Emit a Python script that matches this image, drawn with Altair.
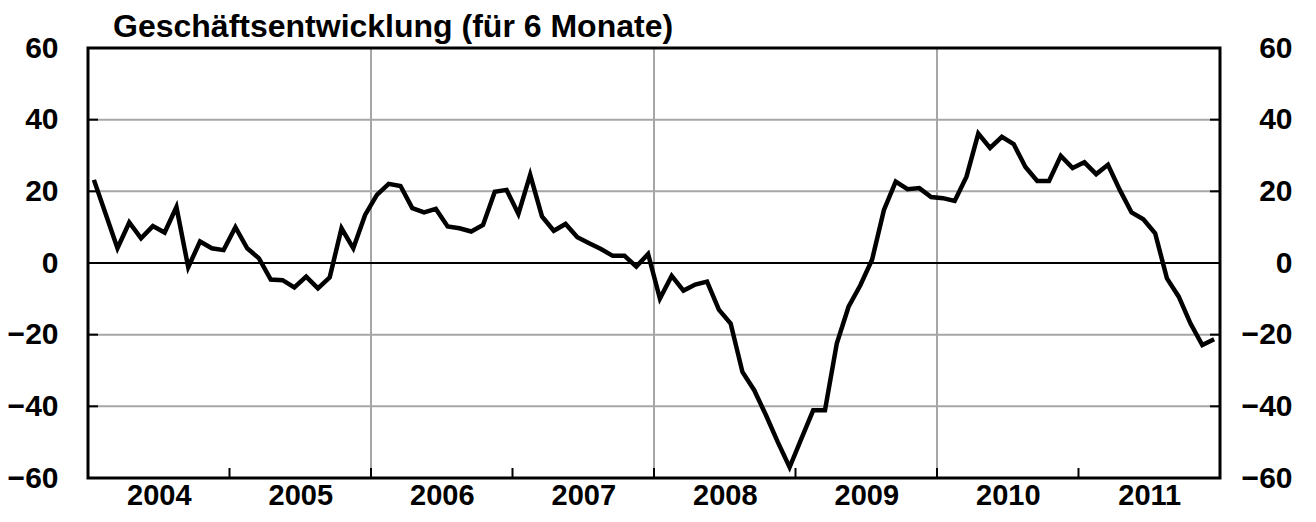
import altair as alt
import pandas as pd

# ---- data (monthly values) ----
years = [2004, 2005, 2006, 2007, 2008, 2009, 2010, 2011]
v2004 = [23.2, 13.7, 4.1, 11.3, 6.9, 10.3, 8.5, 15.6, -1.2, 6.0, 4.1, 3.6]
v2005 = [10.0, 4.1, 1.3, -4.6, -4.8, -6.8, -3.8, -7.1, -4.0, 9.7, 4.1, 13.4]
v2006 = [19.0, 22.1, 21.5, 15.3, 14.1, 15.1, 10.2, 9.7, 8.8, 10.6, 19.9, 20.4]
v2007 = [13.7, 24.6, 13.0, 9.0, 10.9, 7.2, 5.5, 3.9, 2.0, 2.0, -1.0, 2.5]
v2008 = [-9.9, -3.6, -7.7, -6.0, -5.2, -13.0, -16.9, -30.4, -35.5, -42.5, -50.0, -57.0]
v2009 = [-49.0, -41.1, -41.1, -22.5, -12.2, -6.2, 1.0, 14.8, 22.7, 20.6, 20.9, 18.4]
v2010 = [18.1, 17.3, 24.1, 36.1, 32.1, 35.2, 33.2, 26.8, 22.9, 22.9, 29.9, 26.5]
v2011 = [28.1, 24.8, 27.4, 20.4, 14.1, 12.2, 8.3, -4.3, -9.4, -16.9, -22.9, -21.3]
series = [v2004, v2005, v2006, v2007, v2008, v2009, v2010, v2011]

y_ticks = [-60, -40, -20, 0, 20, 40, 60]
y_grid = [-40, -20, 20, 40]
x_grid = [2006, 2008, 2010]
x_ticks = [2005, 2006, 2007, 2008, 2009, 2010, 2011]
x_labels = [2004.5, 2005.5, 2006.5, 2007.5, 2008.5, 2009.5, 2010.5, 2011.5]
title_text = "Geschäftsentwicklung (für 6 Monate)"

# month slots centred inside each year (category axis)
rows = []
for yr, vals in zip(years, series):
    for m, v in enumerate(vals):
        rows.append({"x": yr + (m + 0.5) / 12.0, "value": v})
df = pd.DataFrame(rows)

W, H = 1132, 430
FONT = "Liberation Sans"
YLBL = 30
XLBL = 29

xscale = alt.Scale(domain=[2004, 2012], nice=False, zero=False)
yscale = alt.Scale(domain=[-60, 60], nice=False, zero=False)

ygrid_df = pd.DataFrame({"v": y_grid})
xgrid_df = pd.DataFrame({"x": x_grid})
ytick_df = pd.DataFrame({"v": y_ticks})
xtick_df = pd.DataFrame({"x": x_ticks})
zero_df = pd.DataFrame({"v": [0]})
frame_df = pd.DataFrame({"f": [1]})

x_axis = alt.Axis(
    values=x_labels, labelExpr="floor(datum.value)", labelFont=FONT,
    labelFontSize=XLBL, labelFontWeight="bold", labelColor="black",
    domain=False, ticks=False, tickSize=0, grid=False, labelPadding=3,
    title=None, labelFlush=False,
)
left_axis = alt.Axis(
    orient="left", values=y_ticks, labelFont=FONT, labelFontSize=YLBL,
    labelFontWeight="bold", labelColor="black", domain=False, ticks=False,
    tickSize=0, grid=False, labelPadding=30, title=None, labelAlign="right",
)
right_axis = alt.Axis(
    orient="right", values=y_ticks, labelFont=FONT, labelFontSize=YLBL,
    labelFontWeight="bold", labelColor="black", domain=False, ticks=False,
    tickSize=0, grid=False, labelPadding=72, title=None, labelAlign="right",
)

hgrid = alt.Chart(ygrid_df).mark_rule(color="#a6a6a6", strokeWidth=2).encode(
    y=alt.Y("v:Q", scale=yscale, axis=None)
)
vgrid = alt.Chart(xgrid_df).mark_rule(color="#a6a6a6", strokeWidth=2).encode(
    x=alt.X("x:Q", scale=xscale, axis=x_axis)
)
zero = alt.Chart(zero_df).mark_rule(color="black", strokeWidth=2).encode(
    y=alt.Y("v:Q", scale=yscale, axis=None)
)
bticks = alt.Chart(xtick_df).mark_rule(color="black", strokeWidth=2).encode(
    x=alt.X("x:Q", scale=xscale, axis=x_axis),
    y=alt.value(H - 10),
    y2=alt.value(H),
)
lticks = alt.Chart(ytick_df).mark_rule(color="black", strokeWidth=2).encode(
    y=alt.Y("v:Q", scale=yscale, axis=left_axis),
    x=alt.value(0),
    x2=alt.value(10),
)
rticks = alt.Chart(ytick_df).mark_rule(color="black", strokeWidth=2).encode(
    y=alt.Y("v:Q", scale=yscale, axis=right_axis),
    x=alt.value(W - 10),
    x2=alt.value(W),
)
line = alt.Chart(df).mark_line(color="black", strokeWidth=4.5).encode(
    x=alt.X("x:Q", scale=xscale, axis=x_axis),
    y=alt.Y("value:Q", scale=yscale, axis=None),
)
frame = alt.Chart(frame_df).mark_rect(
    fillOpacity=0, stroke="black", strokeWidth=3
).encode(
    x=alt.value(0), x2=alt.value(W), y=alt.value(0), y2=alt.value(H)
)

chart = (
    alt.layer(hgrid, vgrid, zero, bticks, lticks, rticks, line, frame)
    .resolve_scale(y="independent")
    .properties(
        width=W,
        height=H,
        autosize=alt.AutoSizeParams(type="none"),
        padding={"left": 80, "top": 40, "right": 88, "bottom": 36},
        title=alt.TitleParams(
            text=title_text, anchor="start", frame="group", dx=25, dy=19,
            font=FONT, fontSize=32, fontWeight="bold", color="black", offset=8,
        ),
    )
    .configure_view(stroke=None)
    .configure(background="white")
)

chart.save("out.html", embed_options={"renderer": "svg", "actions": False})
